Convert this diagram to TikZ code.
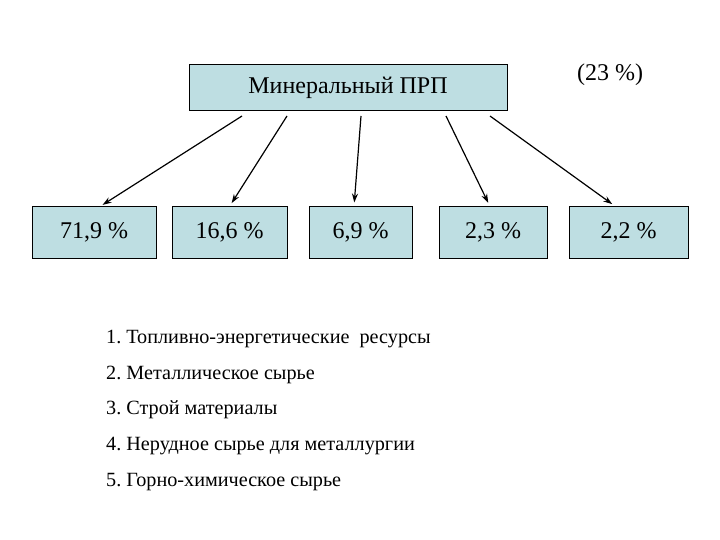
\documentclass[tikz,border=0pt]{standalone}
\usepackage{fontspec}
\setmainfont{Liberation Serif}
\usepackage{tikz}
\usetikzlibrary{arrows}
\usetikzlibrary{arrows.meta}
\usetikzlibrary{positioning}
\definecolor{boxfill}{RGB}{190,222,226}
\frenchspacing
\tikzstyle{tran}  = [
    draw,
    -{Stealth[length=9pt,width=6pt]},
    line width=1.2pt
]
\tikzstyle{share}  = [
    draw,
    fill=boxfill,
    line width=1pt,
    minimum height=51pt,
    inner sep=0pt,
    font=\fontsize{24}{28}\selectfont
]
\tikzstyle{item}  = [
    anchor=base west,
    inner sep=0pt,
    font=\fontsize{20.2}{24}\selectfont
]

\begin{document}
\begin{tikzpicture}[x = 1pt, y=-1pt]
\useasboundingbox (0,0) rectangle (720,540);

\node[share, minimum width=318pt, minimum height=46pt] (prp) at (348,88) {Минеральный ПРП};
\node[font=\fontsize{24}{28}\selectfont] (all) at (610,75) {(23 \%)};

\node[share, minimum width=124pt] (p1) at (94,232.5)    {71,9 \%};
\node[share, minimum width=115pt] (p2) at (229.5,232.5) {16,6 \%};
\node[share, minimum width=103pt] (p3) at (360.5,232.5) {6,9 \%};
\node[share, minimum width=108pt] (p4) at (493,232.5)   {2,3 \%};
\node[share, minimum width=119pt] (p5) at (628.5,232.5) {2,2 \%};

\coordinate (o1) at (242,116);
\coordinate (o2) at (287,116);
\coordinate (o3) at (361,116);
\coordinate (o4) at (446,116);
\coordinate (o5) at (490,116);

\draw[tran, shorten >=3pt] (o1) to ([xshift=6pt]p1.north);
\draw[tran, shorten >=4pt] (o2) to (p2.north);
\draw[tran, shorten >=4pt] (o3) to ([xshift=-6.5pt]p3.north);
\draw[tran, shorten >=4pt] (o4) to ([xshift=-3pt]p4.north);
\draw[tran, shorten >=4pt] (o5) to ([xshift=-13pt]p5.north);

\node[item] (r1) at (106,343) {1. Топливно-энергетические\ \ ресурсы};
\node[item] (r2) at (106,379) {2. Металлическое сырье};
\node[item] (r3) at (106,414) {3. Строй материалы};
\node[item] (r4) at (106,450) {4. Нерудное сырье для металлургии};
\node[item] (r5) at (106,486) {5. Горно-химическое сырье};

\end{tikzpicture}
\end{document}
